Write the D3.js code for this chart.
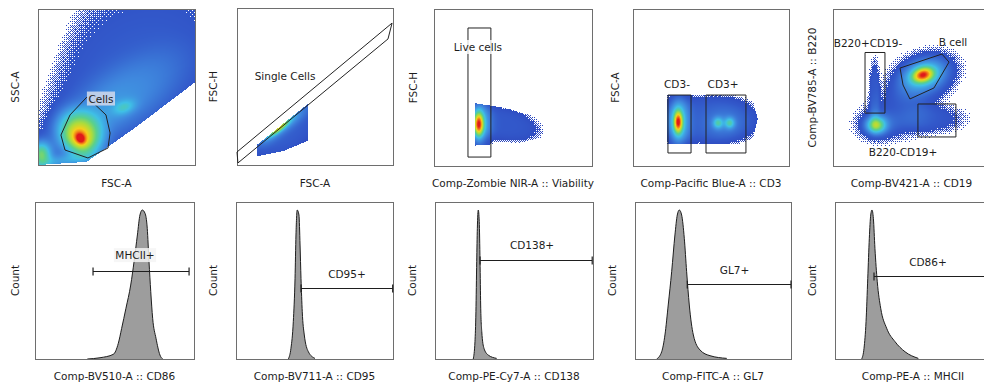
<!DOCTYPE html>
<html><head><meta charset="utf-8">
<script src="https://cdn.jsdelivr.net/npm/d3@7"></script>
<style>
body{margin:0;background:#fff}
svg{display:block}
text{font-family:"DejaVu Sans",sans-serif;fill:#1c1c1c}
</style>
</head><body>
<svg id="chart" width="984" height="387"></svg>
<script>
// ================= DATA =================
const xAxisLabels = ["FSC-A","FSC-A","Comp-Zombie NIR-A :: Viability","Comp-Pacific Blue-A :: CD3","Comp-BV421-A :: CD19",
  "Comp-BV510-A :: CD86","Comp-BV711-A :: CD95","Comp-PE-Cy7-A :: CD138","Comp-FITC-A :: GL7","Comp-PE-A :: MHCII"];
const yAxisLabels = ["SSC-A","FSC-H","FSC-H","FSC-A","Comp-BV785-A :: B220","Count","Count","Count","Count","Count"];

// density populations (axis fractions): [x, y, spreadX, spreadY, tiltDeg, weight, shape]
// (a negative weight marks the empty upper-left corner of the FSC/SSC plot)
const densityCells = [
  [0.62,0.62,0.6,0.45,40,0.11,1.5],
  [0.58,0.47,0.32,0.15,33,0.08,1.5],
  [0.32,0.26,0.30,0.12,35,0.10,1],
  [0.27,0.20,0.11,0.13,40,0.38,1.5],
  [0.27,0.175,0.05,0.06,35,0.3,1],
  [0.27,0.17,0.02,0.025,30,0.3,1],
  [0.02,0.07,0.045,0.055,0,0.45,1],
  [0.16,0.025,0.16,0.03,8,0.18,1],
  [0.55,0.37,0.05,0.03,20,0.17,1],
  [-0.02,0.98,0.45,0.12,76,-0.16,1]
];
const regionCells = [[0,0],[0.31,0.02],[0.62,0.24],[1,0.53],[1,1],[0,1]];
const densitySingle = [
  [0.32,0.22,0.22,0.12,38,0.11,2],
  [0.30,0.25,0.15,0.03,38,0.16,1],
  [0.27,0.235,0.06,0.014,38,0.45,1]
];
const regionSingle = [[0.13,0.13],[0.455,0.39],[0.455,0.155],[0.3,0.09],[0.13,0.055]];
const densityLive = [
  [0.43,0.27,0.21,0.09,-12,0.1,2],
  [0.29,0.265,0.045,0.1,0,0.3,1],
  [0.283,0.265,0.02,0.05,0,0.65,1]
];
const regionLive = [[0.258,0.40],[0.45,0.37],[0.62,0.32],[0.73,0.26],[0.71,0.19],[0.55,0.15],[0.258,0.13]];
const densityCD3 = [
  [0.5,0.295,0.29,0.14,0,0.1,3],
  [0.58,0.275,0.1,0.07,0,0.1,1],
  [0.545,0.274,0.022,0.024,0,0.27,1],
  [0.62,0.274,0.022,0.024,0,0.27,1],
  [0.29,0.28,0.045,0.11,0,0.35,1],
  [0.29,0.28,0.018,0.045,0,0.6,1]
];
const regionCD3 = [[0.218,0.45],[0.7,0.45],[0.77,0.41],[0.8,0.3],[0.77,0.18],[0.7,0.14],[0.218,0.14]];
const densityB220 = [
  [0.57,0.55,0.17,0.12,25,0.12,1.5],
  [0.58,0.58,0.1,0.065,20,0.3,1],
  [0.573,0.58,0.045,0.03,15,0.6,1],
  [0.265,0.47,0.03,0.18,0,0.09,2],
  [0.42,0.33,0.16,0.12,0,0.07,1.5],
  [0.62,0.3,0.17,0.07,0,0.09,1.5],
  [0.28,0.26,0.08,0.06,0,0.15,1],
  [0.275,0.26,0.04,0.035,0,0.45,1]
];

// gates (axis fractions)
const gateCells = [[0.312,0.436],[0.433,0.321],[0.459,0.205],[0.446,0.109],[0.318,0.045],[0.172,0.096],[0.146,0.192],[0.204,0.321]];
const gateSingle = [[0,0.083],[0.994,0.904],[0.968,0.803],[0.006,0.013]];
const gateLive = [[0.215,0.879],[0.36,0.879],[0.36,0.057],[0.215,0.057]];
const gateCD3neg = [[0.224,0.452],[0.372,0.452],[0.372,0.083],[0.224,0.083]];
const gateCD3pos = [[0.468,0.452],[0.724,0.452],[0.724,0.083],[0.468,0.083]];
const gateB220pos = [[0.204,0.723],[0.331,0.723],[0.331,0.337],[0.204,0.337]];
const gateBcell = [[0.427,0.624],[0.694,0.713],[0.739,0.662],[0.643,0.497],[0.49,0.427],[0.446,0.516]];
const gateCD19pos = [[0.541,0.395],[0.783,0.395],[0.783,0.185],[0.541,0.185]];

// gate names and label anchors
const gateNames = ["Cells","Single Cells","Live cells","CD3-","CD3+","B220+CD19-","B cell","B220-CD19+"];
const gateLabelAt = [[0.401,0.426],[0.308,0.567],[0.278,0.758],[0.282,0.522],[0.577,0.522],[0.223,0.783],[0.764,0.79],[0.446,0.089]];

// histograms: [fraction of axis, relative count]
const histCD86 = [[0.329,0],[0.409,0.008],[0.493,0.03],[0.524,0.1],[0.545,0.195],[0.572,0.323],[0.602,0.471],[0.623,0.62],[0.644,0.79],[0.66,0.917],[0.675,0.949],[0.692,0.928],[0.706,0.832],[0.717,0.62],[0.728,0.429],[0.74,0.259],[0.761,0.132],[0.786,0.025],[0.803,0]];
const histCD95 = [[0.333,0],[0.35,0.068],[0.365,0.238],[0.376,0.514],[0.382,0.79],[0.39,0.949],[0.401,0.917],[0.408,0.726],[0.414,0.514],[0.422,0.301],[0.435,0.153],[0.461,0.046],[0.503,0.004]];
const histCD138 = [[0.242,0],[0.253,0.11],[0.259,0.301],[0.264,0.62],[0.268,0.832],[0.274,0.949],[0.28,0.875],[0.285,0.62],[0.289,0.344],[0.296,0.174],[0.31,0.068],[0.337,0.025],[0.39,0.004]];
const histGL7 = [[0.139,0],[0.171,0.046],[0.192,0.153],[0.213,0.344],[0.235,0.556],[0.256,0.79],[0.271,0.917],[0.284,0.949],[0.299,0.917],[0.316,0.769],[0.331,0.556],[0.348,0.344],[0.374,0.153],[0.417,0.057],[0.481,0.021],[0.588,0.004]];
const histMHCII = [[0.171,0],[0.186,0.068],[0.199,0.238],[0.21,0.514],[0.22,0.769],[0.229,0.917],[0.237,0.949],[0.246,0.896],[0.256,0.705],[0.271,0.492],[0.293,0.323],[0.331,0.196],[0.385,0.11],[0.449,0.046],[0.534,0.004]];

// range gates: [from, to, level]
const rangeGates = [[0.365,0.969,0.56],[0.414,0.998,0.45],[0.285,0.995,0.63],[0.335,1.0,0.476],[0.25,1.05,0.529]];
const rangeNames = ["MHCII+","CD95+","CD138+","GL7+","CD86+"];
const rangeLabelAt = [[0.629,0.662],[0.707,0.541],[0.614,0.726],[0.638,0.567],[0.596,0.618]];

// ================= LAYOUT =================
const boxes = [
  {x:38,y:9,w:157,h:156},{x:237,y:8,w:156,h:157},{x:434,y:9,w:158,h:157},{x:633,y:9,w:156,h:157},{x:833,y:9,w:157,h:157},
  {x:35,y:202,w:159,h:157},{x:236,y:202,w:157,h:157},{x:435,y:202,w:158,h:157},{x:635,y:202,w:156,h:157},{x:835,y:202,w:156,h:157}
];
const yLabelX = [15,213,413,615,812,15,213,412,612,812];
const ditherBand = [[0.02,0.09],[0.012,0.06],[0.02,0.06],[0.012,0.06],[0.012,0.07]];

const svg = d3.select("#chart");
const heat = d3.scaleLinear()
  .domain([0,0.1,0.22,0.36,0.5,0.63,0.76,0.88,1])
  .range(["#2c43ba","#3258ca","#3f88de","#3fc0e6","#5ad08c","#acdc3c","#f3d11c","#f27a18","#df1a1a"])
  .clamp(true);
const bayer = [[0,32,8,40,2,34,10,42],[48,16,56,24,50,18,58,26],[12,44,4,36,14,46,6,38],[60,28,52,20,62,30,54,22],
  [3,35,11,43,1,33,9,41],[51,19,59,27,49,17,57,25],[15,47,7,39,13,45,5,37],[63,31,55,23,61,29,53,21]];

function scalesFor(b){
  return {x:d3.scaleLinear().domain([0,1]).range([b.x,b.x+b.w]),
          y:d3.scaleLinear().domain([0,1]).range([b.y+b.h,b.y])};
}
function densAt(comps,u,v){
  let s=0;
  for(const [cx,cy,sx,sy,a,w,p] of comps){
    const r=a*Math.PI/180, dx=u-cx, dy=v-cy;
    const a1=(dx*Math.cos(r)+dy*Math.sin(r))/sx;
    const a2=(-dx*Math.sin(r)+dy*Math.cos(r))/sy;
    s+=w*Math.exp(-0.5*Math.pow(a1*a1+a2*a2,p));
  }
  return s;
}
function drawDensity(i,comps,region){
  const b=boxes[i], sc=scalesFor(b);
  const W=b.w, H=b.h;
  const cv=document.createElement("canvas"); cv.width=W; cv.height=H;
  const ctx=cv.getContext("2d"); const img=ctx.createImageData(W,H);
  const [lo,hi]=ditherBand[i];
  for(let py=0;py<H;py++){
    for(let px=0;px<W;px++){
      const u=sc.x.invert(b.x+px+0.5), v=sc.y.invert(b.y+py+0.5);
      if(region && !d3.polygonContains(region,[u,v])) continue;
      const d=densAt(comps,u,v);
      if(d<lo) continue;
      if(d<hi){ const pr=(d-lo)/(hi-lo); if(pr<=bayer[py%8][px%8]/64) continue; }
      const c=d3.rgb(heat(d));
      const k=(py*W+px)*4;
      img.data[k]=c.r; img.data[k+1]=c.g; img.data[k+2]=c.b; img.data[k+3]=255;
    }
  }
  ctx.putImageData(img,0,0);
  svg.append("image").attr("x",b.x).attr("y",b.y).attr("width",W).attr("height",H)
    .attr("href",cv.toDataURL()).style("image-rendering","pixelated");
}
function drawGate(i,poly){
  const sc=scalesFor(boxes[i]);
  svg.append("path").attr("d","M"+poly.map(p=>[sc.x(p[0]),sc.y(p[1])].join(",")).join("L")+"Z")
    .attr("fill","none").attr("stroke","#222").attr("stroke-width",1);
}
function gateLabel(i,name,at,bg,op){
  const sc=scalesFor(boxes[i]);
  const g=svg.append("g");
  const t=g.append("text").attr("x",sc.x(at[0])).attr("y",sc.y(at[1])).attr("text-anchor","middle")
    .attr("dominant-baseline","central").attr("font-size",10.5).text(name);
  if(bg){
    const bb=t.node().getBBox();
    g.insert("rect","text").attr("x",bb.x-1.5).attr("y",bb.y-1).attr("width",bb.width+3).attr("height",bb.height+2)
      .attr("fill",bg).attr("fill-opacity",op);
  }
}

// ---- density panels ----
drawDensity(0,densityCells,regionCells);
drawDensity(1,densitySingle,regionSingle);
drawDensity(2,densityLive,regionLive);
drawDensity(3,densityCD3,regionCD3);
drawDensity(4,densityB220,null);

// ---- histograms ----
const hists=[histCD86,histCD95,histCD138,histGL7,histMHCII];
hists.forEach((h,j)=>{
  const i=5+j, sc=scalesFor(boxes[i]);
  const area=d3.area().x(d=>sc.x(d[0])).y0(sc.y(0)).y1(d=>sc.y(d[1])).curve(d3.curveMonotoneX);
  const line=d3.line().x(d=>sc.x(d[0])).y(d=>sc.y(d[1])).curve(d3.curveMonotoneX);
  svg.append("path").attr("d",area(h)).attr("fill","#9d9d9d");
  svg.append("path").attr("d",line(h)).attr("fill","none").attr("stroke","#1e1e1e").attr("stroke-width",1);
});

// ---- frames ----
boxes.forEach(b=>{
  svg.append("rect").attr("x",b.x+0.5).attr("y",b.y+0.5).attr("width",b.w).attr("height",b.h)
    .attr("fill","none").attr("stroke","#6e6e6e").attr("stroke-width",1);
});

// ---- gates ----
drawGate(0,gateCells); drawGate(1,gateSingle); drawGate(2,gateLive);
drawGate(3,gateCD3neg); drawGate(3,gateCD3pos);
drawGate(4,gateB220pos); drawGate(4,gateBcell); drawGate(4,gateCD19pos);
const gatePanel=[0,1,2,3,3,4,4,4];
gateNames.forEach((n,k)=>{
  const bg = k===0 ? "#c3d2ea" : (k===2 ? "#ffffff" : null);
  gateLabel(gatePanel[k],n,gateLabelAt[k],bg,k===0?0.95:0.8);
});
rangeGates.forEach((r,j)=>{
  const i=5+j, sc=scalesFor(boxes[i]);
  const x0=sc.x(r[0]), x1=sc.x(r[1]), y=Math.round(sc.y(r[2]))+0.5;
  const g=svg.append("g").attr("stroke","#1e1e1e").attr("stroke-width",1.2);
  g.append("line").attr("x1",x0).attr("x2",x1).attr("y1",y).attr("y2",y);
  g.append("line").attr("x1",x0).attr("x2",x0).attr("y1",y-4).attr("y2",y+4);
  g.append("line").attr("x1",x1).attr("x2",x1).attr("y1",y-4).attr("y2",y+4);
  gateLabel(i,rangeNames[j],rangeLabelAt[j],j===0?"#f4f4f4":null,0.85);
});

// ---- axis titles ----
boxes.forEach((b,i)=>{
  svg.append("text").attr("x",b.x+b.w/2).attr("y",i<5?187:380).attr("text-anchor","middle")
    .attr("font-size",10.5).text(xAxisLabels[i]);
  svg.append("text").attr("transform",`translate(${yLabelX[i]},${b.y+b.h/2}) rotate(-90)`)
    .attr("text-anchor","middle").attr("dominant-baseline","central").attr("font-size",10.5).text(yAxisLabels[i]);
});
</script>
</body></html>
